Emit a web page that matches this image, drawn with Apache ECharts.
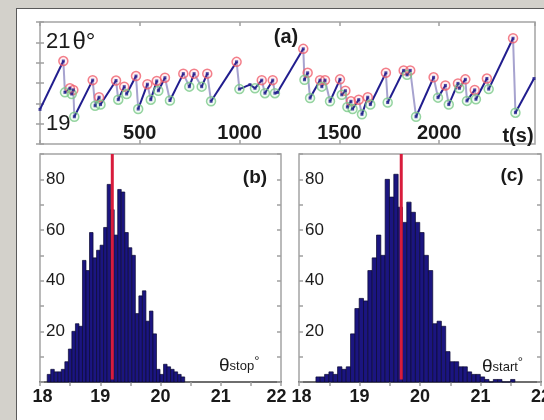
<!DOCTYPE html>
<html><head><meta charset="utf-8">
<script src="https://cdn.jsdelivr.net/npm/echarts@6/dist/echarts.min.js"></script>
<style>
html,body{margin:0;padding:0;background:#d3d1cb;width:544px;height:420px;overflow:hidden}
#frame{position:absolute;left:16px;top:8px;width:600px;height:500px;background:#fff;border:1px solid #5a5a5a}
#chart{position:absolute;left:0;top:0;width:544px;height:420px}
</style></head><body>
<div id="frame"></div><div id="chart"></div>
<script>
// ---- panel (a): angle time trace ----
const traceT = [0,117,125,150,159,167,172,264,276,296,303,381,392,422,434,481,492,538,555,585,593,626,651,718,748,772,810,838,857,985,999,1052,1077,1111,1127,1166,1177,1190,1319,1325,1341,1353,1403,1412,1428,1453,1503,1512,1530,1540,1558,1566,1597,1613,1642,1655,1733,1742,1822,1839,1855,1884,1972,1994,2031,2048,2094,2101,2131,2139,2178,2184,2239,2248,2370,2382,2475];
const traceTheta = [19.35,20.54,19.77,19.87,19.73,19.83,19.17,20.07,19.44,19.65,19.47,20.06,19.59,19.91,19.73,20.17,19.36,19.97,19.59,20.05,19.81,20.13,19.57,20.23,19.91,20.23,19.91,20.23,19.55,20.52,19.85,19.96,19.87,20.07,19.75,20.07,19.75,19.77,20.84,20.08,20.25,19.63,20.07,19.91,20.07,19.55,20.09,19.71,19.81,19.41,19.55,19.36,19.59,19.23,19.65,19.47,20.25,19.52,20.31,20.2,20.31,19.17,20.14,19.64,19.94,19.47,19.99,19.87,20.09,19.56,19.83,19.6,20.11,19.85,21.1,19.27,20.11];
const traceKind = ['p','max','min','max','min','max','min','max','min','max','min','max','min','max','min','max','min','max','min','max','min','max','min','max','min','max','min','max','min','max','min','p','min','max','min','max','min','p','max','min','max','min','max','min','max','min','max','min','max','min','max','min','max','min','max','min','max','min','max','min','max','min','max','min','max','min','max','min','max','min','max','min','max','min','max','min','p'];
const aXTicks = [500,1000,1500,2000];
const aYTicks = [19,21];

// ---- panel (b): theta_stop histogram ----
const stopBinStart = 18.12, stopBinWidth = 0.0585;
const stopCounts = [3,5,4,4,5,8,13,20,23,22,48,44,59,49,52,54,61,78,68,58,76,75,59,53,50,27,34,36,24,28,19,5,3,7,6,5,4,3,2];
const stopMean = 19.2;

// ---- panel (c): theta_start histogram ----
const startBinStart = 18.28, startBinWidth = 0.0715;
const startCounts = [2,2,3,4,3,6,5,6,19,29,33,32,44,49,58,50,80,73,82,69,63,71,67,63,59,50,44,23,24,22,12,8,8,6,6,4,3,3,2,1,0,1,1,0,0,1];
const startMean = 19.69;

const histXTicks = [18,19,20,21,22];
const histYTicks = [20,40,60,80];

const FONT = 'Liberation Sans, Arial, Helvetica, sans-serif';
const TXT = '#1a1a1a';
const tickStyle = {show:true, inside:true, length:4, lineStyle:{color:'#a0a0a0', width:1.5}};

const riseSegs = [], dropSegs = [];
for (let i = 0; i < traceT.length - 1; i++) {
  const seg = {coords:[[traceT[i], traceTheta[i]], [traceT[i+1], traceTheta[i+1]]]};
  if (traceKind[i] === 'max' && traceKind[i+1] === 'min') dropSegs.push(seg); else riseSegs.push(seg);
}
const maxPts = [], minPts = [], allPts = [];
traceT.forEach((t, i) => {
  allPts.push([t, traceTheta[i]]);
  if (traceKind[i] === 'max') maxPts.push([t, traceTheta[i]]);
  if (traceKind[i] === 'min') minPts.push([t, traceTheta[i]]);
});

function histSeries(counts, start, width, idx) {
  return {
    type:'custom', xAxisIndex:idx*2, yAxisIndex:idx*2, z:2,
    data: counts.map((c, i) => [start + i*width, start + (i+1)*width, c]),
    encode:{x:[0,1], y:2},
    renderItem: (params, api) => {
      const p0 = api.coord([api.value(0), api.value(2)]);
      const p1 = api.coord([api.value(1), 0]);
      return {type:'rect', shape:{x:p0[0], y:p0[1], width:p1[0]-p0[0], height:p1[1]-p0[1]},
        style:{fill:'#1b1580', stroke:'#0a0930', lineWidth:0.7}};
    }
  };
}
function meanLine(v, idx) {
  return {type:'line', xAxisIndex:idx*2, yAxisIndex:idx*2, z:5, showSymbol:false, symbol:'none',
    data:[[v, 1], [v, 90]], lineStyle:{color:'#d81c3c', width:3}};
}
function histAxesX(g) {
  return [
    {gridIndex:g, type:'value', min:18, max:22, interval:1, position:'bottom',
      axisLine:{show:true, lineStyle:{color:'#6e6e6e', width:2}}, axisTick:{show:false}, splitLine:{show:false},
      axisLabel:{margin:6, fontSize:18, fontWeight:'bold', color:TXT, fontFamily:FONT,
        formatter: v => v === histXTicks[0] ? '{lo|' + v + '}' : (v === histXTicks[4] ? '{hi|' + v + '}' : (histXTicks.includes(v) ? String(v) : '')),
        rich:{lo:{fontSize:18, fontWeight:'bold', color:TXT, fontFamily:FONT, padding:[0,0,0,5]},
              hi:{fontSize:18, fontWeight:'bold', color:TXT, fontFamily:FONT, padding:[0, g === 1 ? 9 : 0, 0, 0]}}}},
    {gridIndex:g, type:'value', min:18, max:22, interval:0.5, position:'top',
      axisLine:{show:false}, axisTick:tickStyle, axisLabel:{show:false}, splitLine:{show:false}}
  ];
}
function histAxesY(g) {
  return [
    {gridIndex:g, type:'value', min:0, max:90, interval:10, position:'left',
      axisLine:{show:false}, axisTick:tickStyle, splitLine:{show:false},
      axisLabel:{inside:true, margin:6, fontSize:17, color:TXT, fontFamily:FONT, padding:[0,0,8,0],
        formatter: v => histYTicks.includes(v) ? String(v) : ''}},
    {gridIndex:g, type:'value', min:0, max:90, interval:10, position:'right',
      axisLine:{show:false}, axisTick:tickStyle, axisLabel:{show:false}, splitLine:{show:false}}
  ];
}

const gridBase = {show:true, borderColor:'#a4a4a4', borderWidth:1.5, backgroundColor:'#fff', containLabel:false, outerBoundsMode:'none'};

const option = {
  animation:false,
  backgroundColor:'transparent',
  grid:[
    Object.assign({left:40, top:22, width:495, height:122}, gridBase),
    Object.assign({left:40, top:154, width:241, height:228}, gridBase),
    Object.assign({left:299, top:154, width:242, height:228}, gridBase)
  ],
  xAxis:[
    {gridIndex:0, type:'value', min:0, max:2480, interval:500, position:'bottom',
      axisLine:{show:false}, axisTick:tickStyle, splitLine:{show:false},
      axisLabel:{inside:true, margin:1, fontSize:20, fontWeight:'bold', color:TXT, fontFamily:FONT, showMaxLabel:false,
        formatter: v => aXTicks.includes(v) ? String(v) : ''}},
    {gridIndex:0, type:'value', min:0, max:2480, interval:500, position:'top',
      axisLine:{show:false}, axisTick:tickStyle, axisLabel:{show:false}, splitLine:{show:false}},
    ...histAxesX(1), ...histAxesX(2)
  ],
  yAxis:[
    {gridIndex:0, type:'value', min:18.5, max:21.5, interval:0.5, position:'left',
      axisLine:{show:false}, axisTick:tickStyle, splitLine:{show:false},
      axisLabel:{inside:true, margin:6, color:TXT, fontFamily:FONT,
        formatter: v => v === aYTicks[1] ? '{n|' + v + '}{t|θ°}' : (v === aYTicks[0] ? '{n|' + v + '}' : ''),
        rich:{n:{fontSize:22, color:TXT, fontFamily:FONT}, t:{fontSize:24, color:TXT, fontFamily:FONT, padding:[0,0,0,2]}}}},
    {gridIndex:0, type:'value', min:18.5, max:21.5, interval:0.5, position:'right',
      axisLine:{show:false}, axisTick:tickStyle, axisLabel:{show:false}, splitLine:{show:false}},
    ...histAxesY(1), ...histAxesY(2)
  ],
  series:[
    {type:'lines', coordinateSystem:'cartesian2d', xAxisIndex:0, yAxisIndex:0, z:2,
      data:dropSegs, lineStyle:{color:'#a7a3cf', width:2, opacity:1}},
    {type:'lines', coordinateSystem:'cartesian2d', xAxisIndex:0, yAxisIndex:0, z:3,
      data:riseSegs, lineStyle:{color:'#211d8e', width:2, opacity:1}},
    {type:'scatter', xAxisIndex:0, yAxisIndex:0, z:4, data:maxPts, symbol:'circle', symbolSize:9,
      itemStyle:{color:'rgba(255,140,150,0.15)', borderColor:'#f0606e', borderWidth:1.5}},
    {type:'scatter', xAxisIndex:0, yAxisIndex:0, z:4, data:minPts, symbol:'circle', symbolSize:9,
      itemStyle:{color:'rgba(140,220,150,0.15)', borderColor:'#7cc98a', borderWidth:1.5}},
    {type:'scatter', xAxisIndex:0, yAxisIndex:0, z:5, data:allPts, symbol:'rect', symbolSize:3,
      itemStyle:{color:'#211d8e'}},
    histSeries(stopCounts, stopBinStart, stopBinWidth, 1),
    meanLine(stopMean, 1),
    histSeries(startCounts, startBinStart, startBinWidth, 2),
    meanLine(startMean, 2)
  ],
  graphic:[
    {type:'text', z:100, style:{text:'(a)', x:286, y:37, align:'center', verticalAlign:'middle', fill:TXT, font:'bold 20px ' + FONT}},
    {type:'text', z:100, style:{text:'(b)', x:255, y:178, align:'center', verticalAlign:'middle', fill:TXT, font:'bold 19px ' + FONT}},
    {type:'text', z:100, style:{text:'(c)', x:512, y:176, align:'center', verticalAlign:'middle', fill:TXT, font:'bold 19px ' + FONT}},
    {type:'text', z:100, style:{text:'t(s)', x:518, y:136, align:'center', verticalAlign:'middle', fill:TXT, font:'bold 20px ' + FONT}},
    {type:'text', z:100, style:{text:'{a|θ}{b|stop}{c|°}', x:219, y:377, align:'left', verticalAlign:'bottom',
      rich:{a:{fontSize:19, fill:TXT, fontFamily:FONT}, b:{fontSize:13, fill:TXT, fontFamily:FONT}, c:{fontSize:13, fill:TXT, fontFamily:FONT, padding:[0,0,9,0]}}}},
    {type:'text', z:100, style:{text:'{a|θ}{b|start}{c|°}', x:482, y:378, align:'left', verticalAlign:'bottom',
      rich:{a:{fontSize:19, fill:TXT, fontFamily:FONT}, b:{fontSize:13, fill:TXT, fontFamily:FONT}, c:{fontSize:13, fill:TXT, fontFamily:FONT, padding:[0,0,9,0]}}}}
  ]
};
const chart = echarts.init(document.getElementById('chart'), null, {renderer:'canvas'});
chart.setOption(option);
</script>
</body></html>
